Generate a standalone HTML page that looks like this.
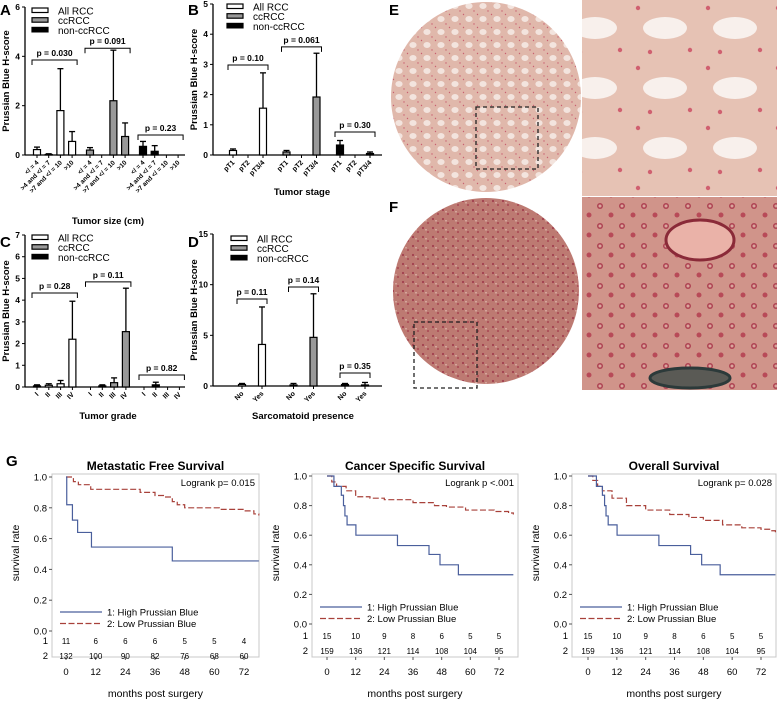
<!DOCTYPE html>
<html><head><meta charset="utf-8">
<style>
html,body{margin:0;padding:0;background:#fff;}
svg{display:block;font-family:"Liberation Sans",Arial,sans-serif;}
</style></head>
<body>
<svg id="fig" width="777" height="701" viewBox="0 0 777 701" xmlns="http://www.w3.org/2000/svg">
<defs>
  <pattern id="tubE" width="14" height="13" patternUnits="userSpaceOnUse">
    <rect width="14" height="13" fill="#e0b8ab"/>
    <ellipse cx="7" cy="6" rx="3.6" ry="3" fill="#f3e4de"/>
    <circle cx="1.5" cy="1.5" r="0.7" fill="#c86070"/>
    <circle cx="12" cy="11" r="0.7" fill="#c86070"/>
  </pattern>
  <pattern id="tubF" width="10" height="9" patternUnits="userSpaceOnUse">
    <rect width="10" height="9" fill="#bd7a72"/>
    <circle cx="3" cy="3" r="1.1" fill="#a2404e"/>
    <circle cx="8" cy="7" r="1" fill="#a84652"/>
    <rect x="5" y="4" width="2" height="1.5" fill="#d5a39b"/>
  </pattern>
  <pattern id="zoomE" width="70" height="60" patternUnits="userSpaceOnUse">
    <rect width="70" height="60" fill="#e6c2b4"/>
    <ellipse cx="35" cy="28" rx="22" ry="11" fill="#f8f0ec"/>
    <circle cx="8" cy="8" r="2.2" fill="#d06070"/>
    <circle cx="60" cy="50" r="2.2" fill="#d06070"/>
    <circle cx="20" cy="52" r="2.2" fill="#d06070"/>
  </pattern>
  <pattern id="zoomF" width="22" height="20" patternUnits="userSpaceOnUse">
    <rect width="22" height="20" fill="#d0948a"/>
    <circle cx="6" cy="6" r="3" fill="#ae4252"/>
    <circle cx="6" cy="6" r="1.5" fill="#d9a59c"/>
    <circle cx="17" cy="15" r="2.5" fill="#b84a58"/>
  </pattern>
</defs>
<g id="charts"></g>
<g id="images">
  <circle cx="486" cy="97" r="95" fill="url(#tubE)"/>
  <rect x="476" y="107" width="62" height="62" fill="none" stroke="#222" stroke-width="1.3" stroke-dasharray="4,3"/>
  <rect x="582" y="0" width="195" height="196" fill="url(#zoomE)"/>
  <circle cx="486" cy="291" r="93" fill="url(#tubF)"/>
  <rect x="414" y="322" width="63" height="66" fill="none" stroke="#222" stroke-width="1.3" stroke-dasharray="4,3"/>
  <rect x="582" y="197" width="195" height="193" fill="url(#zoomF)"/>
  <ellipse cx="700" cy="240" rx="34" ry="20" fill="#eab2a8" stroke="#8a2a38" stroke-width="3"/>
  <ellipse cx="690" cy="378" rx="40" ry="10" fill="#5a5a55" stroke="#2c3a3a" stroke-width="3"/>
  <text x="389" y="15" font-size="15" font-weight="bold">E</text>
  <text x="389" y="212" font-size="15" font-weight="bold">F</text>
</g>
<g id="km"></g>
<text x="6" y="466" font-size="15" font-weight="bold">G</text>
</svg>
<script>
// ---------- Bar chart data ----------
const groupNames = ["All RCC","ccRCC","non-ccRCC"];
const catsA = ["</ = 4",">4 and </ = 7",">7 and </ = 10",">10"];
const meanA = [[0.22,0.02,1.8,0.55],[0.2,0,2.2,0.75],[0.35,0.15,0,0]];
const errA  = [[0.32,0.05,3.5,0.95],[0.3,0,4.25,1.3],[0.55,0.38,0,0]];
const pA = ["p = 0.030","p = 0.091","p = 0.23"];
const pAy = [3.85,4.33,0.81];
const catsB = ["pT1","pT2","pT3/4"];
const meanB = [[0.15,0,1.55],[0.1,0,1.92],[0.33,0,0.05]];
const errB  = [[0.2,0,2.72],[0.15,0,3.37],[0.48,0,0.1]];
const pB = ["p = 0.10","p = 0.061","p = 0.30"];
const pBy = [2.98,3.58,0.76];
const catsC = ["I","II","III","IV"];
const meanC = [[0.05,0.08,0.15,2.2],[0,0.05,0.2,2.55],[0,0.1,0,0]];
const errC  = [[0.1,0.15,0.3,3.95],[0,0.1,0.42,4.55],[0,0.22,0,0]];
const pC = ["p = 0.28","p = 0.11","p = 0.82"];
const pCy = [4.33,4.84,0.55];
const catsD = ["No","Yes"];
const meanD = [[0.15,4.1],[0.1,4.8],[0.15,0.1]];
const errD  = [[0.25,7.8],[0.25,9.1],[0.25,0.35]];
const pD = ["p = 0.11","p = 0.14","p = 0.35"];
const pDy = [8.58,9.77,1.28];
const ticksA=[0,2,4,6], ticksB=[0,1,2,3,4,5], ticksC=[0,1,2,3,4,5,6,7], ticksD=[0,5,10,15];

const NS="http://www.w3.org/2000/svg";
function mk(tag,attrs,parent,txt){const e=document.createElementNS(NS,tag);for(const k in attrs)e.setAttribute(k,attrs[k]);if(txt!==undefined)e.textContent=txt;parent.appendChild(e);return e;}
const fills=["#ffffff","#999999","#000000"];

function barPanel(o){
  const g=mk('g',{},document.getElementById('charts'));
  
  
  const y=v=>o.y0-(v/o.ymax)*(o.y0-o.ytop);
  const x=(gi,ci)=>o.x0+gi*o.gStep+ci*o.bStep;
  const ya=mk('line',{x1:o.ax,y1:o.ytop,x2:o.ax,y2:o.y0,stroke:'#000','stroke-width':1.3},g);
  
  const xa=mk('line',{x1:o.ax,y1:o.y0,x2:o.xend,y2:o.y0,stroke:'#000','stroke-width':1.3},g);
  
  o.ticks.forEach(t=>{
    mk('line',{x1:o.ax-3,x2:o.ax,y1:y(t),y2:y(t),stroke:'#000','stroke-width':1},g);
    const tl=mk('text',{x:o.ax-5,y:y(t)+3,'font-size':8.5,'font-weight':'bold','text-anchor':'end'},g,String(t));
    
  });
  const yl=mk('text',{x:0,y:0,'font-size':9.5,'font-weight':'bold','text-anchor':'middle',transform:`translate(${o.ax-16},${(o.ytop+o.y0)/2}) rotate(-90)`},g,'Prussian Blue H-score');
  
  o.mean.forEach((arr,gi)=>{
    arr.forEach((v,ci)=>{
      const cx=x(gi,ci);
      const e=o.err[gi][ci];
      if(e>v){
        mk('line',{x1:cx,x2:cx,y1:y(v),y2:y(e),stroke:'#000','stroke-width':1.3},g);
        mk('line',{x1:cx-3,x2:cx+3,y1:y(e),y2:y(e),stroke:'#000','stroke-width':1.3},g);
      }
      if(v>0){
        const r=mk('rect',{x:cx-3.5,y:y(v),width:7,height:o.y0-y(v),fill:fills[gi],stroke:'#000','stroke-width':1.2},g);
        
        
      }
      mk('line',{x1:cx,x2:cx,y1:o.y0,y2:o.y0+3,stroke:'#000','stroke-width':1},g);
      const cl=mk('text',{x:0,y:0,'font-size':o.catSize,'font-weight':'bold','text-anchor':'end',transform:`translate(${cx+2},${o.y0+8}) rotate(-45)`},g,o.cats[ci]);
      
    });
    const n=arr.length;
    const xa1=x(gi,0)-5, xa2=x(gi,n-1)+5, by=y(o.py[gi]);
    const br=mk('path',{d:`M${xa1},${by+5}V${by}H${xa2}V${by+5}`,fill:'none',stroke:'#000','stroke-width':1},g);
    
    const pt=mk('text',{x:(xa1+xa2)/2,y:by-4,'font-size':8.5,'font-weight':'bold','text-anchor':'middle'},g,o.p[gi]);
    
  });
  groupNames.forEach((nm,i)=>{
    const ly=o.ly+i*9.7;
    const lr=mk('rect',{x:o.lx,y:ly-4,width:16,height:4.5,fill:fills[i],stroke:'#000','stroke-width':1.2},g);
    
    const lt=mk('text',{x:o.lx+26,y:ly+2.5,'font-size':10},g,nm);
    
  });
  const xt=mk('text',{x:o.tx,y:o.ty,'font-size':9.5,'font-weight':'bold','text-anchor':'middle'},g,o.title);
  
  const pl=mk('text',{x:o.plx,y:o.ply,'font-size':15,'font-weight':'bold'},g,o.id.toUpperCase());
  
}
barPanel({id:'a',ax:25,xend:185,y0:155,ytop:7,ymax:6,ticks:ticksA,x0:37,gStep:53,bStep:11.7,mean:meanA,err:errA,cats:catsA,p:pA,py:pAy,catSize:6.5,lx:32,ly:12,title:'Tumor size (cm)',tx:108,ty:224,plx:0,ply:15});
barPanel({id:'b',ax:213,xend:382,y0:155,ytop:4,ymax:5,ticks:ticksB,x0:233,gStep:53.5,bStep:15,mean:meanB,err:errB,cats:catsB,p:pB,py:pBy,catSize:7,lx:227,ly:8,title:'Tumor stage',tx:302,ty:195,plx:188,ply:15});
barPanel({id:'c',ax:25,xend:185,y0:387,ytop:235,ymax:7,ticks:ticksC,x0:37,gStep:53.5,bStep:11.8,mean:meanC,err:errC,cats:catsC,p:pC,py:pCy,catSize:7,lx:32,ly:239,title:'Tumor grade',tx:108,ty:419,plx:0,ply:247});
barPanel({id:'d',ax:213,xend:382,y0:386,ytop:234,ymax:15,ticks:ticksD,x0:242,gStep:51.5,bStep:20,mean:meanD,err:errD,cats:catsD,p:pD,py:pDy,catSize:7,lx:231,ly:240,title:'Sarcomatoid presence',tx:303,ty:419,plx:188,ply:247});

// ---------- KM data ----------
const kmTitles = ["Metastatic Free Survival","Cancer Specific Survival","Overall Survival"];
const kmPvals = ["Logrank p= 0.015","Logrank p  <.001","Logrank p= 0.028"];
const xTicksKM = [0,12,24,36,48,60,72];
const yTicksKM = ["0.0","0.2","0.4","0.6","0.8","1.0"];
const hiT1=[0,0.3,2.6,4.7,10.3,43,78], hiS1=[1,0.82,0.72,0.64,0.545,0.455,0.455];
const loT1=[0,3,5,10,24,30,36,40,43,45,48,60,62,72,76,78], loS1=[1,0.97,0.95,0.92,0.92,0.9,0.88,0.87,0.84,0.82,0.8,0.8,0.79,0.78,0.76,0.75];
const hiT2=[0,2.9,6,6.9,7.5,8.4,12.1,29.5,42.7,47.3,55,78], hiS2=[1,0.93,0.87,0.8,0.73,0.67,0.6,0.53,0.47,0.4,0.333,0.333];
const loT2=[0,2,4,8,12,18,24,36,45,50,58,70,76,78], loS2=[1,0.96,0.93,0.9,0.86,0.85,0.84,0.82,0.8,0.79,0.77,0.76,0.75,0.74];
const hiT3=[0,3.5,6,6.9,7.5,8.4,12.1,29.5,42.7,47.3,55,78], hiS3=[1,0.93,0.87,0.8,0.73,0.67,0.6,0.53,0.47,0.4,0.333,0.333];
const loT3=[0,2,4,6,10,16,24,34,42,48,56,64,72,76,78], loS3=[1,0.97,0.93,0.9,0.85,0.8,0.77,0.74,0.72,0.7,0.67,0.65,0.64,0.63,0.62];
const risk1=[["11","6","6","6","5","5","4"],["132","100","90","82","76","68","60"]];
const risk2=[["15","10","9","8","6","5","5"],["159","136","121","114","108","104","95"]];
const risk3=[["15","10","9","8","6","5","5"],["159","136","121","114","108","104","95"]];

function kmPanel(o){
  const g=mk('g',{},document.getElementById('km'));
  
  
  const X=m=>o.x0+(m/72)*(o.x72-o.x0);
  const Y=s=>o.y0-s*(o.y0-o.y1);
  const fr=mk('rect',{x:o.fl,y:o.ft,width:o.fr-o.fl,height:o.fb-o.ft,fill:'none',stroke:'#c8c8c8','stroke-width':1},g);
  
  const tt=mk('text',{x:(o.fl+o.fr)/2,y:470,'font-size':12,'font-weight':'bold','text-anchor':'middle'},g,kmTitles[o.i]);
  
  const lp=mk('text',{x:o.fr-4,y:486,'font-size':9.5,'text-anchor':'end'},g,kmPvals[o.i]);
  
  yTicksKM.forEach(t=>{
    const v=parseFloat(t);
    mk('line',{x1:o.fl-3,x2:o.fl,y1:Y(v),y2:Y(v),stroke:'#555'},g);
    const l=mk('text',{x:o.fl-5,y:Y(v)+3.5,'font-size':9.5,'text-anchor':'end'},g,t);
    
  });
  xTicksKM.forEach(t=>{
    mk('line',{x1:X(t),x2:X(t),y1:o.fb,y2:o.fb+3,stroke:'#555'},g);
    const l=mk('text',{x:X(t),y:675,'font-size':9.5,'text-anchor':'middle'},g,String(t));
    
  });
  const yl=mk('text',{x:0,y:0,'font-size':10.5,'text-anchor':'middle',transform:`translate(${o.fl-33},${553}) rotate(-90)`},g,'survival rate');
  
  const xl=mk('text',{x:(o.fl+o.fr)/2,y:697,'font-size':10.5,'text-anchor':'middle'},g,'months post surgery');
  
  function step(T,S,color,dash,name){
    let d=`M${X(T[0])},${Y(S[0])}`;
    for(let k=1;k<T.length;k++){d+=`H${X(T[k])}V${Y(S[k])}`;}
    const p=mk('path',{d:d,fill:'none',stroke:color,'stroke-width':1.2,'stroke-dasharray':dash},g);
    
  }
  step(o.loT,o.loS,'#a8413a','6,2.5','low-prussian-blue-curve');
  step(o.hiT,o.hiS,'#4a5f9c','none','high-prussian-blue-curve');
  const lg=[['1: High Prussian Blue','#4a5f9c','none'],['2: Low Prussian Blue','#a8413a','6,2.5']];
  lg.forEach((e,k)=>{
    const ly=o.ly+k*11.5;
    mk('line',{x1:o.fl+8,x2:o.fl+50,y1:ly,y2:ly,stroke:e[1],'stroke-width':1.2,'stroke-dasharray':e[2]},g);
    const t=mk('text',{x:o.fl+55,y:ly+3.5,'font-size':9.5},g,e[0]);
    
  });
  o.risk.forEach((row,r)=>{
    const ry=o.ry+r*15;
    const rl=mk('text',{x:o.fl-4,y:ry,'font-size':9.5,'text-anchor':'end'},g,String(r+1));
    
    row.forEach((n,c)=>{
      const t=mk('text',{x:X(xTicksKM[c]),y:ry,'font-size':8,'text-anchor':'middle'},g,n);
      
    });
  });
}
kmPanel({i:0,fl:52,fr:259,ft:474,fb:657,x0:66,x72:244,y0:631,y1:477,hiT:hiT1,hiS:hiS1,loT:loT1,loS:loS1,ly:612,ry:644,risk:risk1});
kmPanel({i:1,fl:312,fr:518,ft:474,fb:657,x0:327,x72:499,y0:624,y1:476,hiT:hiT2,hiS:hiS2,loT:loT2,loS:loS2,ly:607,ry:639,risk:risk2});
kmPanel({i:2,fl:572,fr:776,ft:474,fb:657,x0:588,x72:761,y0:624,y1:476,hiT:hiT3,hiS:hiS3,loT:loT3,loS:loS3,ly:607,ry:639,risk:risk3});
</script>
</body></html>
